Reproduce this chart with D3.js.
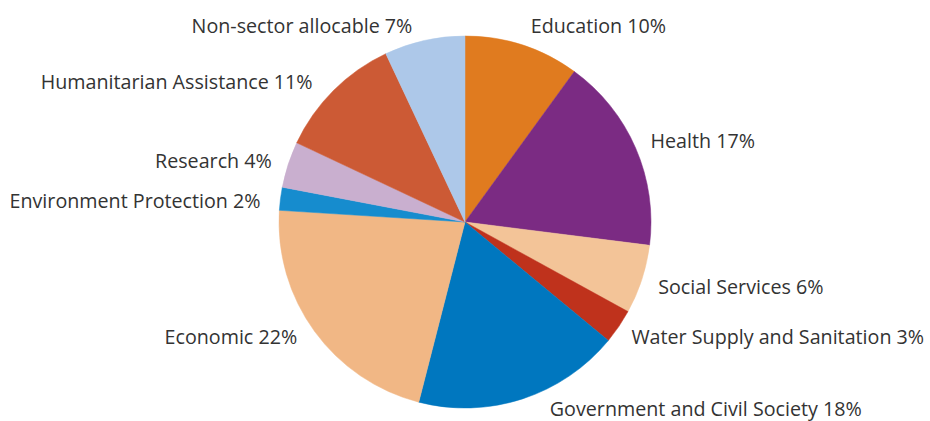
<!DOCTYPE html>
<html>
<head>
<meta charset="utf-8">
<script src="https://cdn.jsdelivr.net/npm/d3@7"></script>
<style>
  html, body { margin: 0; padding: 0; background: #fff; }
  svg { display: block; }
  .label { font-family: "Open Sans", "Noto Sans", sans-serif; font-size: 19.7px; fill: #333; }
</style>
</head>
<body>
<svg id="chart" width="930" height="421"></svg>
<script>
// Sector shares (percent), clockwise from 12 o'clock
const sectors = [
  "Education", "Health", "Social Services", "Water Supply and Sanitation",
  "Government and Civil Society", "Economic", "Environment Protection",
  "Research", "Humanitarian Assistance", "Non-sector allocable"
];
const shares = [10, 17, 6, 3, 18, 22, 2, 4, 11, 7];
const sliceColors = [
  "#e07b1f", "#7b2b83", "#f3c498", "#bf321c", "#0077bf",
  "#f1b785", "#168cce", "#c9afcf", "#cc5a35", "#adc8e9"
];

// Small per-label nudges away from the label ring
const labelNudge = {
  "Education": [4, 1],
  "Health": [2, 5],
  "Social Services": [3, 10],
  "Water Supply and Sanitation": [1, 10],
  "Government and Civil Society": [23, 4],
  "Economic": [-6, 4],
  "Environment Protection": [-6, 11],
  "Research": [-3, 8],
  "Humanitarian Assistance": [-11, 8],
  "Non-sector allocable": [-9, 6]
};

const cx = 465, cy = 222, radius = 186, labelRadius = 200;

const data = sectors.map((name, i) => ({ name, value: shares[i], color: sliceColors[i] }));

const svg = d3.select("#chart");
const g = svg.append("g").attr("transform", `translate(${cx},${cy})`);

const pie = d3.pie().value(d => d.value).sort(null);
const arc = d3.arc().innerRadius(0).outerRadius(radius);
const arcs = pie(data);

g.selectAll("path.slice")
  .data(arcs)
  .join("path")
  .attr("class", "slice")
  .attr("d", arc)
  .attr("fill", d => d.data.color)
  .attr("stroke", d => d.data.color)
  .attr("stroke-width", 0.5);

g.selectAll("text.label")
  .data(arcs)
  .join("text")
  .attr("class", "label")
  .attr("x", d => {
    const mid = (d.startAngle + d.endAngle) / 2;
    return labelRadius * Math.sin(mid) + labelNudge[d.data.name][0];
  })
  .attr("y", d => {
    const mid = (d.startAngle + d.endAngle) / 2;
    return -labelRadius * Math.cos(mid) + labelNudge[d.data.name][1];
  })
  .attr("text-anchor", d => ((d.startAngle + d.endAngle) / 2 < Math.PI ? "start" : "end"))
  .text(d => `${d.data.name} ${d.data.value}%`);
</script>
</body>
</html>
